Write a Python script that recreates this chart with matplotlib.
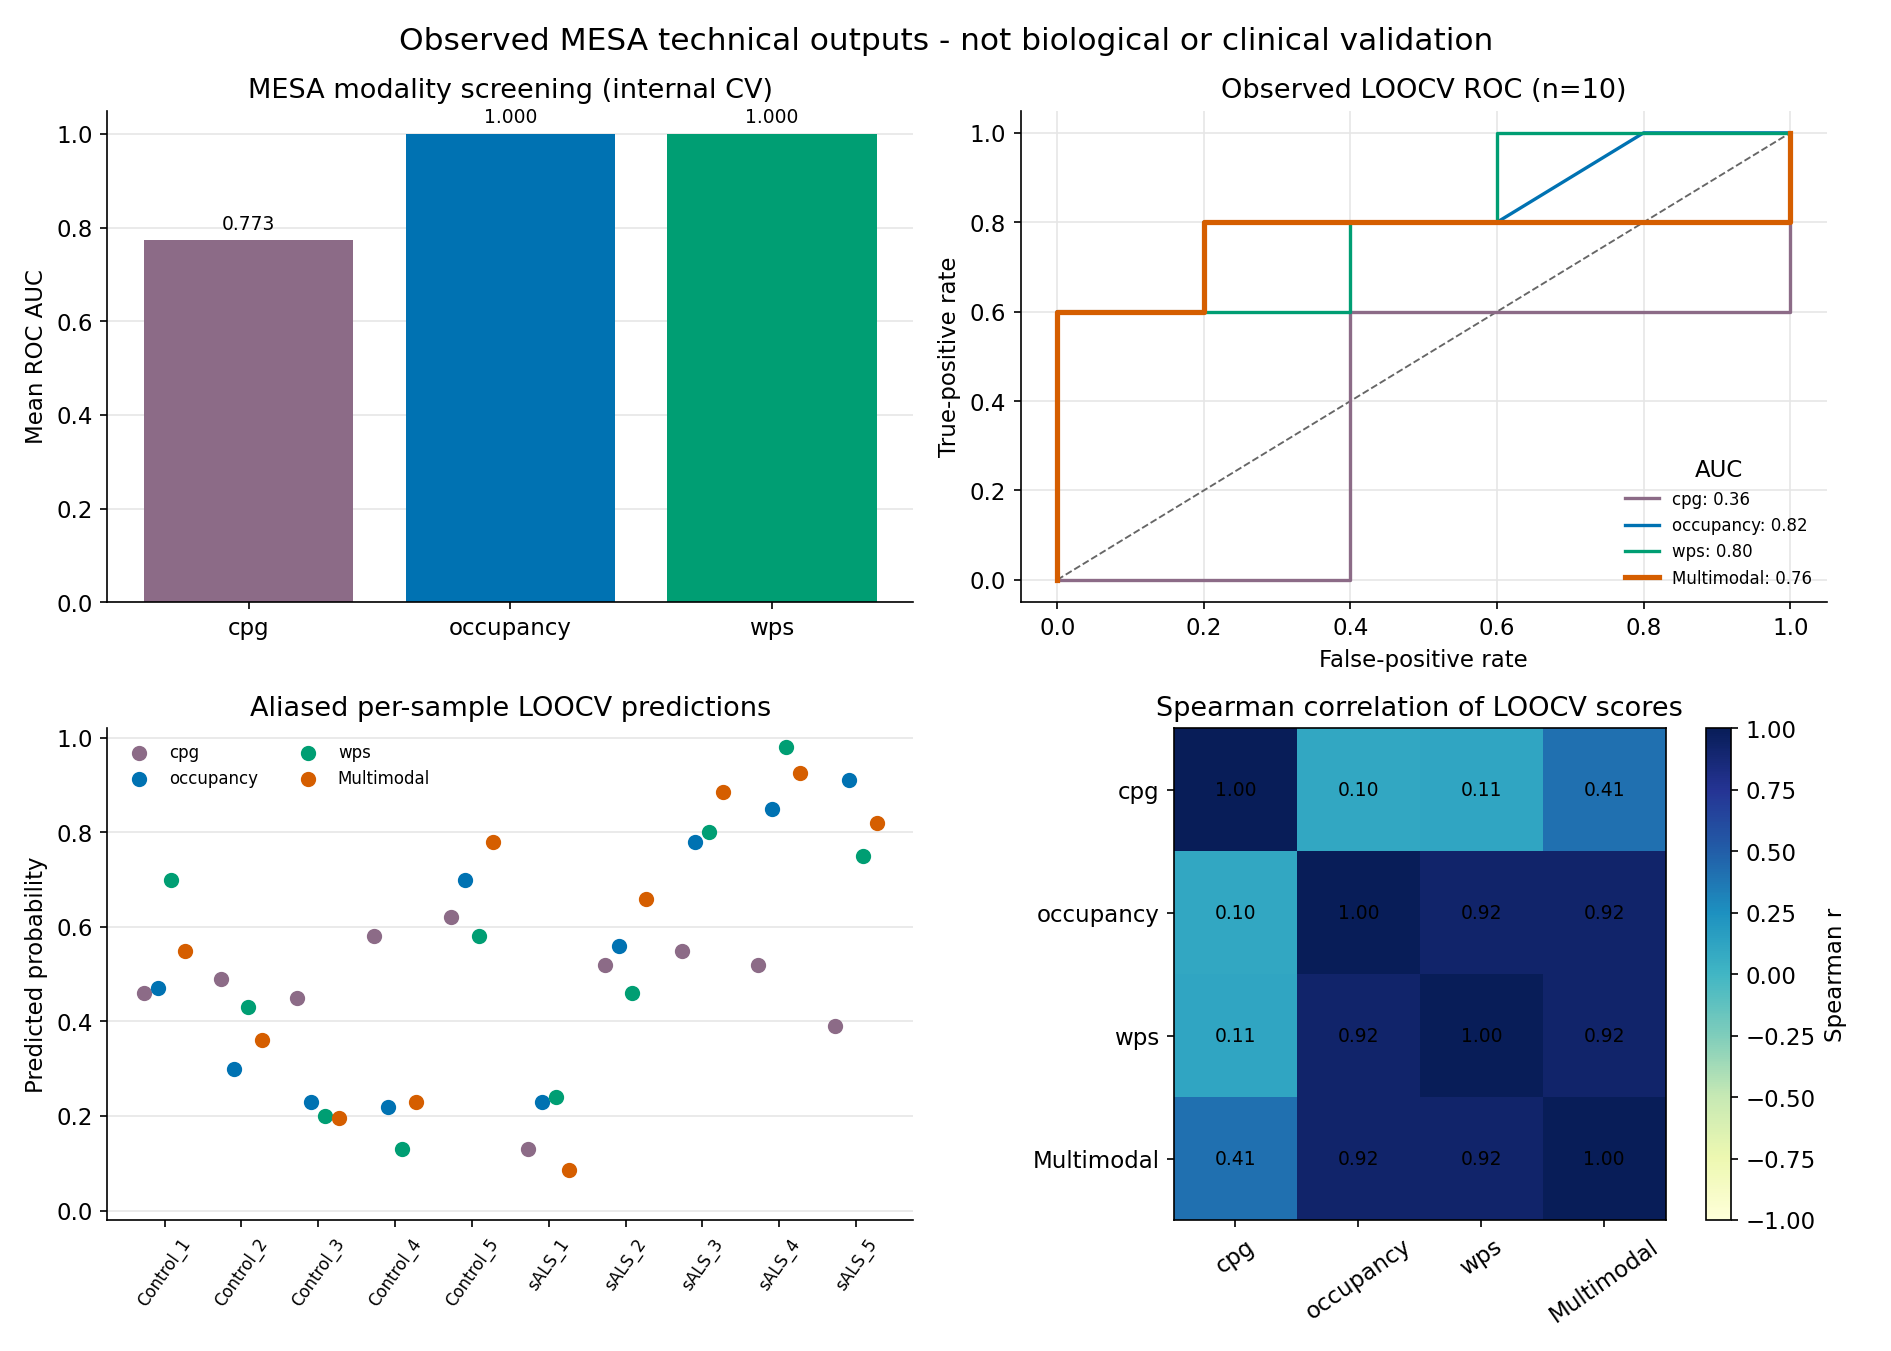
import numpy as np
import matplotlib
matplotlib.use("Agg")
import matplotlib.pyplot as plt

plt.rcParams["font.size"] = 11

modalities = ["cpg", "occupancy", "wps"]
mean_auc = [0.773, 1.000, 1.000]
colors = {"cpg": "#8c6b87", "occupancy": "#0072b2", "wps": "#009e73", "Multimodal": "#d55e00"}

roc = {
    "cpg": ([0, 0.4, 0.4, 1.0, 1.0], [0, 0, 0.6, 0.6, 1.0], 0.36),
    "occupancy": ([0, 0, 0.2, 0.2, 0.6, 0.8, 1.0], [0, 0.6, 0.6, 0.8, 0.8, 1.0, 1.0], 0.82),
    "wps": ([0, 0, 0.4, 0.4, 0.6, 0.6, 1.0], [0, 0.6, 0.6, 0.8, 0.8, 1.0, 1.0], 0.80),
    "Multimodal": ([0, 0, 0.2, 0.2, 1.0, 1.0], [0, 0.6, 0.6, 0.8, 0.8, 1.0], 0.76),
}

samples = ["Control_1", "Control_2", "Control_3", "Control_4", "Control_5",
           "sALS_1", "sALS_2", "sALS_3", "sALS_4", "sALS_5"]
pred = {
    "cpg":        [0.46, 0.49, 0.45, 0.58, 0.62, 0.13, 0.52, 0.55, 0.52, 0.39],
    "occupancy":  [0.47, 0.30, 0.23, 0.22, 0.70, 0.23, 0.56, 0.78, 0.85, 0.91],
    "wps":        [0.70, 0.43, 0.20, 0.13, 0.58, 0.24, 0.46, 0.80, 0.98, 0.75],
    "Multimodal": [0.55, 0.36, 0.195, 0.23, 0.78, 0.085, 0.66, 0.885, 0.925, 0.82],
}

corr_labels = ["cpg", "occupancy", "wps", "Multimodal"]
corr = np.array([
    [1.00, 0.10, 0.11, 0.41],
    [0.10, 1.00, 0.92, 0.92],
    [0.11, 0.92, 1.00, 0.92],
    [0.41, 0.92, 0.92, 1.00],
])

fig, axes = plt.subplots(2, 2, figsize=(12.61, 9.01), dpi=150)
fig.suptitle("Observed MESA technical outputs - not biological or clinical validation", fontsize=15)

# bars
ax = axes[0, 0]
bars = ax.bar(modalities, mean_auc, color=[colors[m] for m in modalities], zorder=2)
for b, v in zip(bars, mean_auc):
    ax.text(b.get_x() + b.get_width() / 2, v + 0.015, f"{v:.3f}", ha="center", va="bottom", fontsize=9)
ax.set_ylim(0, 1.05)
ax.set_ylabel("Mean ROC AUC")
ax.set_title("MESA modality screening (internal CV)", fontsize=13)
ax.grid(axis="y", color="#e6e6e6", zorder=0)

# ROC
ax = axes[0, 1]
ax.plot([0, 1], [0, 1], "--", color="#666666", lw=0.9)
for name, (x, y, a) in roc.items():
    ax.plot(x, y, color=colors[name], lw=2.5 if name == "Multimodal" else 1.6,
            label=f"{name}: {a:.2f}")
ax.set_xlabel("False-positive rate")
ax.set_ylabel("True-positive rate")
ax.set_title("Observed LOOCV ROC (n=10)", fontsize=13)
ax.grid(color="#e6e6e6")
ax.legend(title="AUC", fontsize=8, title_fontsize=11, frameon=False, loc="lower right")

# scatter
ax = axes[1, 0]
offsets = {"cpg": -0.27, "occupancy": -0.09, "wps": 0.09, "Multimodal": 0.27}
xs = np.arange(len(samples))
for name, vals in pred.items():
    ax.scatter(xs + offsets[name], vals, color=colors[name], s=40, label=name, zorder=3)
ax.set_xticks(xs)
ax.set_xticklabels(samples, rotation=55, fontsize=8)
ax.set_ylim(-0.02, 1.02)
ax.set_ylabel("Predicted probability")
ax.set_title("Aliased per-sample LOOCV predictions", fontsize=13)
ax.grid(axis="y", color="#e6e6e6", zorder=0)
ax.legend(ncol=2, fontsize=8, frameon=False, loc="upper left")

for a in [axes[0, 0], axes[0, 1], axes[1, 0]]:
    a.spines["top"].set_visible(False)
    a.spines["right"].set_visible(False)

# heatmap
ax = axes[1, 1]
im = ax.imshow(corr, cmap="YlGnBu", vmin=-1, vmax=1)
ax.set_xticks(range(4))
ax.set_xticklabels(corr_labels, rotation=35)
ax.set_yticks(range(4))
ax.set_yticklabels(corr_labels)
for i in range(4):
    for j in range(4):
        ax.text(j, i, f"{corr[i, j]:.2f}", ha="center", va="center", fontsize=9)
ax.set_title("Spearman correlation of LOOCV scores", fontsize=13)
cb = fig.colorbar(im, ax=ax)
cb.set_label("Spearman r")

fig.tight_layout()
fig.savefig("out.png")
